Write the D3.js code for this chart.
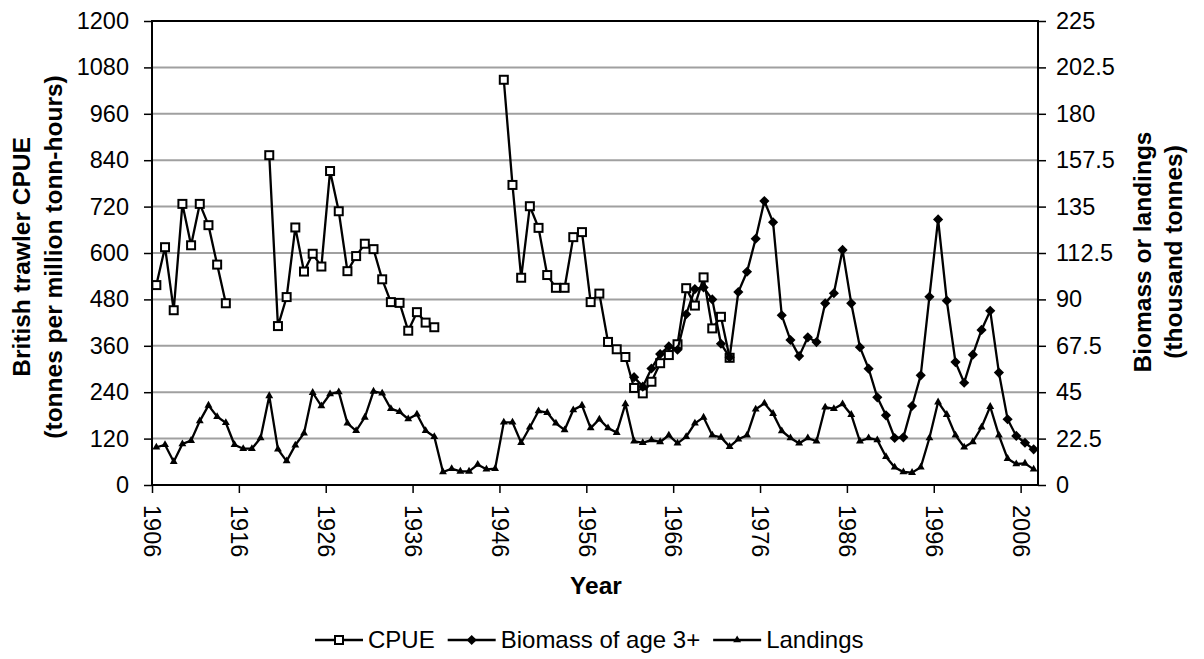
<!DOCTYPE html>
<html>
<head>
<meta charset="utf-8">
<script src="https://cdn.jsdelivr.net/npm/d3@7"></script>
<style>
  body { margin: 0; background: #fff; }
  svg { display: block; font-family: Arial, "Liberation Sans", sans-serif; }
</style>
</head>
<body>
<div id="chart-area"></div>
<script>
'use strict';

// years 1906..2007
const years = d3.range(1906, 2008);

// British trawler CPUE (left axis), null = no data
const cpue = [
    517, 615, 452, 727, 620, 727, 672, 570, 470, null,
    null, null, null, 853, 411, 486, 666, 552, 598, 565,
    812, 708, 553, 592, 624, 610, 532, 473, 471, 399,
    447, 420, 408, null, null, null, null, null, null, null,
    1048, 776, 536, 721, 665, 543, 510, 510, 641, 654,
    473, 495, 370, 351, 331, 251, 237, 267, 315, 336,
    364, 509, 464, 537, 405, 435, 329
];

// biomass of age 3+ (right axis, thousand tonnes), from 1961
const biomassStart = 1961;
const biomass = [
    52.3, 47.7, 56.5, 63.5, 67.2, 65.6, 82.8, 95, 95.8, 90,
    68.5, 61.9, 93.6, 103.4, 119.4, 137.7, 127.4, 82.3, 70.3, 62.5,
    71.6, 69.3, 88.1, 93, 114, 88.1, 66.8, 56.4, 42.5, 33.8,
    22.8, 23.1, 38.3, 53.2, 91.3, 128.8, 89.4, 59.6, 49.6, 63.2,
    75.2, 84.5, 54.5, 31.9, 23.8, 20.5, 17.3
];

// landings (right axis, thousand tonnes), 1906..2007
const landings = [
    18.3, 19.5, 11.3, 19.9, 21.5, 31, 38.6, 33.1, 30.2, 19.5,
    17.6, 17.6, 22.8, 43.2, 17.3, 11.6, 19.3, 25.1, 44.8, 38.3,
    44.1, 45.1, 29.9, 26.3, 32.8, 45.4, 44.5, 37, 35.5, 32,
    34.3, 26.3, 23.4, 6.3, 7.9, 6.6, 6.6, 9.9, 7.6, 7.9,
    30.4, 30.4, 20.5, 28, 35.9, 35.1, 29.9, 26.7, 36.4, 38.6,
    27.6, 31.9, 27.6, 25.4, 39.3, 21.2, 20.5, 21.8, 20.9, 24.1,
    20.2, 23.4, 29.9, 32.8, 24.1, 23.1, 18.6, 22.2, 24.1, 36.7,
    39.6, 34.6, 26.2, 22.8, 20.2, 22.8, 21.2, 37.7, 37, 39.3,
    34.1, 21.2, 22.8, 21.8, 13.7, 8.6, 6.3, 6.0, 8.6, 22.8,
    40.2, 34.1, 24.1, 18.3, 20.9, 28, 38, 24.1, 12.8, 10.2,
    10.5, 7.6
];

const leftTicks = [0, 120, 240, 360, 480, 600, 720, 840, 960, 1080, 1200];
const rightTicks = [0, 22.5, 45, 67.5, 90, 112.5, 135, 157.5, 180, 202.5, 225];
const xTickYears = [1906, 1916, 1926, 1936, 1946, 1956, 1966, 1976, 1986, 1996, 2006];

const seriesNames = ['CPUE', 'Biomass of age 3+', 'Landings'];

draw();

function draw() {
    const W = 1204, H = 659;
    const left = 152, right = 1038, top = 21, bottom = 485;
    const tickFont = '23.5px', titleFont = '24.5px', legendFont = '24px';
    const lw = 2.3;

    let svg = d3.select('#chart-area').append('svg')
        .attr('width', W)
        .attr('height', H);

    // year boundaries, points sit in the middle of each year slot
    let x = d3.scaleLinear()
        .domain([1906, 2008])
        .range([left, right]);

    let yL = d3.scaleLinear()
        .domain([0, 1200])
        .range([bottom, top]);

    let yR = d3.scaleLinear()
        .domain([0, 225])
        .range([bottom, top]);

    // gridlines
    svg.append('g')
        .selectAll('line')
        .data(leftTicks)
        .enter()
        .append('line')
            .attr('x1', left)
            .attr('x2', right)
            .attr('y1', (d) => yL(d))
            .attr('y2', (d) => yL(d))
            .attr('stroke', '#a0a0a0')
            .attr('stroke-width', 2);

    // plot frame
    svg.append('rect')
        .attr('x', left)
        .attr('y', top)
        .attr('width', right - left)
        .attr('height', bottom - top)
        .attr('fill', 'none')
        .attr('stroke', '#000')
        .attr('stroke-width', 2);

    // axes
    let axL = svg.append('g')
        .attr('transform', `translate(${left},0)`)
        .call(d3.axisLeft(yL).tickValues(leftTicks).tickSize(8).tickPadding(15)
            .tickFormat((d) => String(d)));

    let axR = svg.append('g')
        .attr('transform', `translate(${right},0)`)
        .call(d3.axisRight(yR).tickValues(rightTicks).tickSize(8).tickPadding(10)
            .tickFormat((d) => String(d)));

    let axB = svg.append('g')
        .attr('transform', `translate(0,${bottom})`)
        .call(d3.axisBottom(x).tickValues(xTickYears).tickSize(8).tickFormat(d3.format('d')));

    [axL, axR, axB].forEach((g) => {
        g.select('.domain').remove();
        g.selectAll('.tick line').attr('stroke', '#000').attr('stroke-width', 1.5);
        g.selectAll('.tick text')
            .attr('fill', '#000')
            .style('font-size', tickFont)
            .style('font-family', 'Arial, "Liberation Sans", sans-serif');
    });

    axB.selectAll('.tick text')
        .attr('y', 0)
        .attr('x', 20)
        .attr('dy', '0.35em')
        .attr('transform', 'rotate(90)')
        .style('text-anchor', 'start');

    // axis titles
    svg.append('text')
        .attr('x', 596)
        .attr('y', 594)
        .attr('text-anchor', 'middle')
        .style('font-weight', 'bold')
        .style('font-size', titleFont)
        .text('Year');

    function vTitle(cx, cy, str) {
        svg.append('text')
            .attr('transform', `translate(${cx},${cy}) rotate(-90)`)
            .attr('text-anchor', 'middle')
            .attr('dy', '0.35em')
            .style('font-weight', 'bold')
            .style('font-size', titleFont)
            .text(str);
    }
    vTitle(21, 257, 'British trawler CPUE');
    vTitle(53, 257, '(tonnes per million tonn-hours)');
    vTitle(1142, 252, 'Biomass or landings');
    vTitle(1173, 252, '(thousand tonnes)');

    // series
    const mid = (yr) => x(yr + 0.5);

    let cpueData = years.map((yr, i) => ({ yr: yr, v: i < cpue.length ? cpue[i] : null }));
    let bioData = biomass.map((v, i) => ({ yr: biomassStart + i, v: v }));
    let landData = years.map((yr, i) => ({ yr: yr, v: landings[i] }));

    let lineL = d3.line()
        .defined((d) => d.v !== null)
        .x((d) => mid(d.yr))
        .y((d) => yL(d.v));

    let lineR = d3.line()
        .defined((d) => d.v !== null)
        .x((d) => mid(d.yr))
        .y((d) => yR(d.v));

    svg.append('path')
        .datum(cpueData)
        .attr('d', lineL)
        .attr('fill', 'none')
        .attr('stroke', '#000')
        .attr('stroke-width', lw);

    svg.append('g')
        .selectAll('rect')
        .data(cpueData.filter((d) => d.v !== null))
        .enter()
        .append('rect')
            .attr('x', (d) => mid(d.yr) - 4)
            .attr('y', (d) => yL(d.v) - 4)
            .attr('width', 8)
            .attr('height', 8)
            .attr('fill', '#fff')
            .attr('stroke', '#000')
            .attr('stroke-width', 2);

    svg.append('path')
        .datum(bioData)
        .attr('d', lineR)
        .attr('fill', 'none')
        .attr('stroke', '#000')
        .attr('stroke-width', lw);

    let diamond = d3.symbol().type(d3.symbolDiamond2).size(66);
    svg.append('g')
        .selectAll('path')
        .data(bioData)
        .enter()
        .append('path')
            .attr('transform', (d) => `translate(${mid(d.yr)},${yR(d.v)})`)
            .attr('d', diamond)
            .attr('fill', '#000');

    svg.append('path')
        .datum(landData)
        .attr('d', lineR)
        .attr('fill', 'none')
        .attr('stroke', '#000')
        .attr('stroke-width', lw);

    let tri = d3.symbol().type(d3.symbolTriangle).size(27);
    svg.append('g')
        .selectAll('path')
        .data(landData)
        .enter()
        .append('path')
            .attr('transform', (d) => `translate(${mid(d.yr)},${yR(d.v)})`)
            .attr('d', tri)
            .attr('fill', '#000');

    // legend
    let legend = svg.append('g').attr('transform', 'translate(0,640)');
    let lx = 315;
    seriesNames.forEach((name, i) => {
        let item = legend.append('g').attr('transform', `translate(${lx},0)`);
        item.append('line')
            .attr('x1', 0).attr('x2', 48)
            .attr('stroke', '#000').attr('stroke-width', lw);
        if (i === 0) {
            item.append('rect')
                .attr('x', 20).attr('y', -4).attr('width', 8).attr('height', 8)
                .attr('fill', '#fff').attr('stroke', '#000').attr('stroke-width', 2);
        } else if (i === 1) {
            item.append('path').attr('transform', 'translate(24,0)').attr('d', diamond).attr('fill', '#000');
        } else {
            item.append('path').attr('transform', 'translate(24,0)').attr('d', tri).attr('fill', '#000');
        }
        let t = item.append('text')
            .attr('x', 53)
            .attr('dy', '0.35em')
            .style('font-size', legendFont)
            .text(name);
        lx += 53 + t.node().getComputedTextLength() + 13;
    });
}
</script>
</body>
</html>
